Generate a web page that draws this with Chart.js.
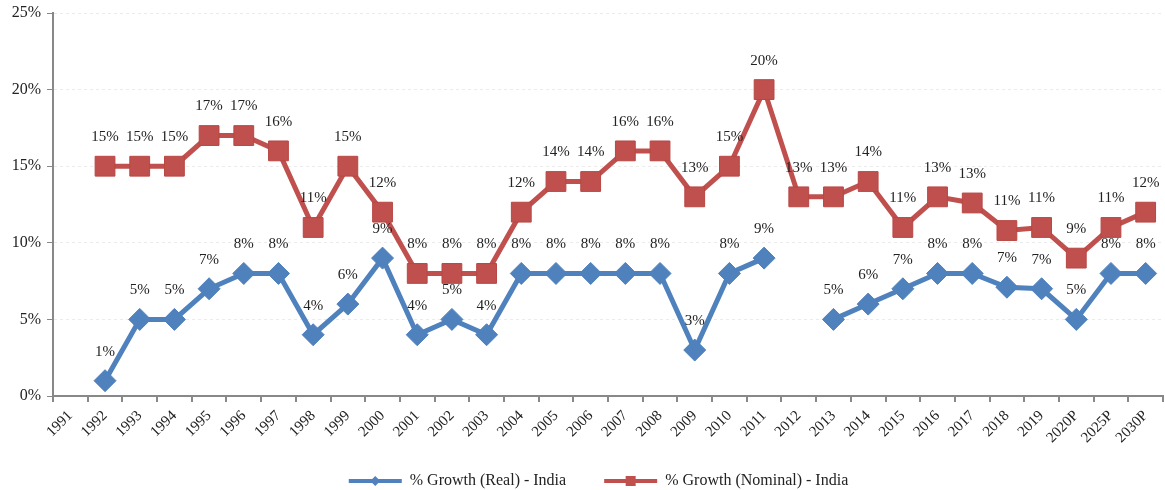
<!DOCTYPE html>
<html>
<head>
<meta charset="utf-8">
<script src="https://cdn.jsdelivr.net/npm/chart.js@4/dist/chart.umd.min.js"></script>
<style>
  body { margin: 0; background: #fff; }
  #wrap { width: 1165px; height: 490px; }
</style>
</head>
<body>
<div id="wrap"><canvas id="myChart" width="1165" height="490"></canvas></div>
<script>
var years = ["1991", "1992", "1993", "1994", "1995", "1996", "1997", "1998", "1999", "2000",
  "2001", "2002", "2003", "2004", "2005", "2006", "2007", "2008", "2009", "2010",
  "2011", "2012", "2013", "2014", "2015", "2016", "2017", "2018", "2019", "2020P",
  "2025P", "2030P"];

var realGrowth = [null, 1, 5, 5, 7, 8, 8, 4, 6, 9,
  4, 5, 4, 8, 8, 8, 8, 8, 3, 8,
  9, null, 5, 6, 7, 8, 8, 7.1, 7, 5,
  8, 8];

var nominalGrowth = [null, 15, 15, 15, 17, 17, 16, 11, 15, 12,
  8, 8, 8, 12, 14, 14, 16, 16, 13, 15,
  20, 13, 13, 14, 11, 13, 12.6, 10.8, 11, 9,
  11, 12];

var yTicks = [0, 5, 10, 15, 20, 25];

var blue = "#4F81BD";
var red = "#C0504D";
var serif = "'Liberation Serif', 'Times New Roman', serif";

// value labels above each point
var pointLabels = {
  id: "pointLabels",
  afterDatasetsDraw: function (chart) {
    var ctx = chart.ctx;
    ctx.save();
    ctx.font = "15px " + serif;
    ctx.fillStyle = "#222";
    ctx.textAlign = "center";
    ctx.textBaseline = "middle";
    chart.data.datasets.forEach(function (ds, i) {
      var meta = chart.getDatasetMeta(i);
      meta.data.forEach(function (pt, j) {
        var v = ds.data[j];
        if (v === null || v === undefined) return;
        ctx.fillText(Math.round(v) + "%", pt.x, pt.y - 29);
      });
    });
    ctx.restore();
  }
};

// draw the marker on top of the legend line
var legendMarkers = {
  id: "legendMarkers",
  afterDraw: function (chart) {
    var lg = chart.legend;
    if (!lg || !lg.legendHitBoxes) return;
    var ctx = chart.ctx;
    var bw = lg.options.labels.boxWidth;
    lg.legendHitBoxes.forEach(function (box, i) {
      var ds = chart.data.datasets[i];
      var cx = box.left + bw / 2;
      var cy = box.top + box.height / 2;
      ctx.save();
      ctx.fillStyle = ds.pointBackgroundColor;
      ctx.beginPath();
      if (ds.pointStyle === "rectRot") {
        ctx.moveTo(cx, cy - 5);
        ctx.lineTo(cx + 5, cy);
        ctx.lineTo(cx, cy + 5);
        ctx.lineTo(cx - 5, cy);
        ctx.closePath();
      } else {
        ctx.rect(cx - 5, cy - 5, 10, 10);
      }
      ctx.fill();
      ctx.restore();
    });
  }
};

// labels may spill outside the scale box, and take no extra room
function looseLabels(s) {
  s._computeLabelArea = function () { return undefined; };
  s.getPadding = function () { return { left: 0, top: 0, right: 0, bottom: 0 }; };
}

var ctx = document.getElementById("myChart");

var data = {
  labels: years,
  datasets: [
    {
      label: "% Growth (Real) - India",
      data: realGrowth,
      borderColor: blue,
      backgroundColor: blue,
      borderWidth: 5,
      pointStyle: "rectRot",
      pointRadius: 11,
      pointHoverRadius: 11,
      pointBackgroundColor: blue,
      pointBorderColor: blue,
      pointBorderWidth: 1,
      lineTension: 0,
      fill: false
    },
    {
      label: "% Growth (Nominal) - India",
      data: nominalGrowth,
      borderColor: red,
      backgroundColor: red,
      borderWidth: 5,
      pointStyle: "rect",
      pointRadius: 14,
      pointHoverRadius: 14,
      pointBackgroundColor: red,
      pointBorderColor: "#B84744",
      pointBorderWidth: 1,
      lineTension: 0,
      fill: false
    }
  ]
};

var options = {
  responsive: false,
  animation: false,
  layout: {
    autoPadding: false,
    padding: { top: 13, right: 2, left: 34, bottom: -9 }
  },
  plugins: {
    tooltip: { enabled: false },
    legend: {
      display: true,
      position: "bottom",
      labels: {
        boxWidth: 53,
        boxHeight: 4,
        padding: 38,
        color: "#222",
        font: { family: serif, size: 16 },
        generateLabels: function (chart) {
          return chart.data.datasets.map(function (ds, i) {
            return {
              text: ds.label,
              fillStyle: ds.borderColor,
              strokeStyle: ds.borderColor,
              lineWidth: 0,
              fontColor: "#222",
              datasetIndex: i
            };
          });
        }
      }
    }
  },
  scales: {
    x: {
      offset: true,
      afterFit: function (s) {
        s.height = 39;
        looseLabels(s);
      },
      grid: {
        offset: true,
        drawOnChartArea: false,
        drawTicks: true,
        tickLength: 6,
        color: "#888",
        lineWidth: 2
      },
      border: { color: "#888", width: 2 },
      ticks: {
        autoSkip: false,
        minRotation: 45,
        maxRotation: 45,
        padding: 5,
        color: "#222",
        font: { family: serif, size: 15 }
      }
    },
    y: {
      min: 0,
      max: 25,
      afterFit: function (s) {
        s.width = 19;
        looseLabels(s);
      },
      afterBuildTicks: function (s) {
        s.ticks = yTicks.map(function (v) { return { value: v }; });
      },
      grid: {
        color: "#EBEBEB",
        lineWidth: 1,
        tickLength: 6,
        tickColor: "#888",
        tickBorderDash: [0],
        drawTicks: true
      },
      border: { color: "#888", width: 2, dash: [3, 3] },
      ticks: {
        padding: 6,
        color: "#222",
        font: { family: serif, size: 16 },
        callback: function (v) { return v + "%"; }
      }
    }
  }
};

var chart = new Chart(ctx, {
  type: "line",
  data: data,
  options: options,
  plugins: [pointLabels, legendMarkers]
});
</script>
</body>
</html>
